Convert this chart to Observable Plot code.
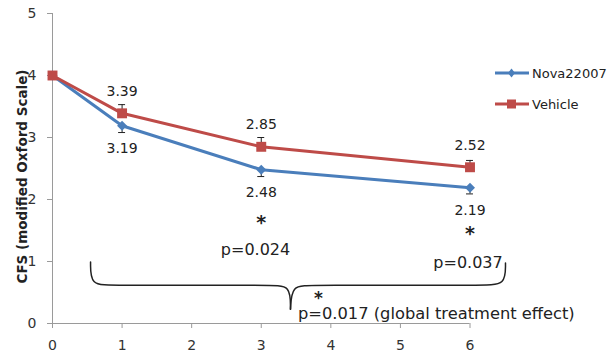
<!DOCTYPE html>
<html><head><meta charset="utf-8">
<script src="https://cdn.jsdelivr.net/npm/d3@7"></script>
<script src="https://cdn.jsdelivr.net/npm/@observablehq/plot@0.6"></script>
<style>
body{margin:0;background:#fff;font-family:"DejaVu Sans",sans-serif;}
#wrap{position:relative;width:611px;height:353px;}
#legend{position:absolute;left:494px;top:62px;font-size:13px;color:#222;}
#legend div{display:flex;align-items:center;height:22px;margin-bottom:9px;}
#legend svg{margin-right:2px;}
</style></head><body><div id="wrap"><div id="legend"></div></div>
<script>
const weeks = [0, 1, 3, 6];
const nova = [4, 3.19, 2.48, 2.19];
const vehicle = [4, 3.39, 2.85, 2.52];
const novaErr = [0, 0.11, 0.11, 0.10];
const vehicleErr = [0, 0.14, 0.15, 0.11];
const seriesNames = ["Nova22007", "Vehicle"];
const xTicks = [0, 1, 2, 3, 4, 5, 6];
const yTicks = [0, 1, 2, 3, 4, 5];
const starWeeks = [3, 6];
const pLabels = ["p=0.024", "p=0.037"];
const globalP = "p=0.017 (global treatment effect)";
const yLabel = "CFS (modified Oxford Scale)";
// brace drawn in data units (x = week, y = CFS)
const braceX = [0.547, 0.547, 0.85, 3.15, 3.42, 3.42,   3.42, 3.44, 3.7, 6.2, 6.51, 6.51];
const braceY = [0.992, 0.616, 0.616, 0.616, 0.616, 0.23, 0.23, 0.616, 0.616, 0.616, 0.616, 0.975];
const braceHalf = ["L","L","L","L","L","L","R","R","R","R","R","R"];

const BLUE = "#4A7EBB", RED = "#BE4B48";
const novaRows = weeks.map((w, i) => ({week: w, value: nova[i], err: novaErr[i]}));
const vehRows = weeks.map((w, i) => ({week: w, value: vehicle[i], err: vehicleErr[i]}));
const brace = braceX.map((x, i) => ({x, y: braceY[i], half: braceHalf[i]}));
const tip = brace[5];

const starDy = {3: 53.5, 6: 46.5};
const pDx = {3: -5.7, 6: -2};
const pDy = {3: 79.8, 6: 74.8};

const marks = [
  Plot.ruleY([0], {stroke: "#9a9a9a"}),
  Plot.ruleX([0], {stroke: "#9a9a9a"}),
  Plot.axisX({ticks: xTicks, tickSize: 5, tickPadding: 12, fontSize: 14, stroke: "#9a9a9a", fill: "#333", label: null, tickFormat: d => d}),
  Plot.axisY({ticks: yTicks, tickSize: 5, tickPadding: 11, fontSize: 14, stroke: "#9a9a9a", fill: "#333", label: null, tickFormat: d => d}),
  Plot.text([yLabel], {frameAnchor: "left", textAnchor: "middle", rotate: -90, dx: -30, dy: 8, fontWeight: "bold", fontSize: 13.5, fill: "#222"}),
  // error bars
  Plot.ruleX(novaRows.filter(d => d.err > 0), {x: "week", y1: d => d.value - d.err, y2: "value", stroke: "#222", strokeWidth: 1}),
  Plot.ruleY(novaRows.filter(d => d.err > 0), {y: d => d.value - d.err, x1: d => d.week - 0.05, x2: d => d.week + 0.05, stroke: "#222", strokeWidth: 1}),
  Plot.ruleX(vehRows.filter(d => d.err > 0), {x: "week", y1: "value", y2: d => d.value + d.err, stroke: "#222", strokeWidth: 1}),
  Plot.ruleY(vehRows.filter(d => d.err > 0), {y: d => d.value + d.err, x1: d => d.week - 0.05, x2: d => d.week + 0.05, stroke: "#222", strokeWidth: 1}),
  // lines
  Plot.line(novaRows, {x: "week", y: "value", stroke: BLUE, strokeWidth: 3}),
  Plot.dot(novaRows, {x: "week", y: "value", symbol: "diamond2", r: 4.5, fill: BLUE, stroke: null}),
  Plot.line(vehRows, {x: "week", y: "value", stroke: RED, strokeWidth: 3}),
  Plot.dot(vehRows, {x: "week", y: "value", symbol: "square", r: 5.6, fill: RED, stroke: null}),
  // value labels
  Plot.text(vehRows.filter(d => d.week > 0), {x: "week", y: "value", text: d => d.value.toFixed(2), dy: -22, fontSize: 14, fill: "#222"}),
  Plot.text(novaRows.filter(d => d.week > 0), {x: "week", y: "value", text: d => d.value.toFixed(2), dy: 23, fontSize: 14, fill: "#222"}),
  // stars and p values
  ...starWeeks.map((w, i) => {
    const row = novaRows.filter(d => d.week === w);
    return [
      Plot.text(row, {x: "week", y: "value", text: () => "*", dy: starDy[w], fontSize: 19, fontWeight: "bold", fill: "#222"}),
      Plot.text(row, {x: "week", y: "value", text: () => pLabels[i], dx: pDx[w], dy: pDy[w], fontSize: 16, fill: "#222"})
    ];
  }).flat(),
  // brace
  Plot.line(brace, {x: "x", y: "y", z: "half", curve: "basis", stroke: "#222", strokeWidth: 1.5}),
  Plot.text([tip], {x: "x", y: "y", text: () => "*", dx: 28, dy: -11, fontSize: 17, fontWeight: "bold", fill: "#222"}),
  Plot.text([tip], {x: "x", y: "y", text: () => globalP, dx: 7.5, dy: 5, textAnchor: "start", fontSize: 16.3, fill: "#222"})
];

const chart = Plot.plot({
  width: 611, height: 353,
  marginLeft: 52, marginRight: 141.5, marginTop: 13, marginBottom: 30,
  x: {domain: [0, 6]},
  y: {domain: [0, 5]},
  style: {fontFamily: "DejaVu Sans", background: "#fff"},
  marks
});
document.getElementById("wrap").prepend(chart);

// legend
const legend = document.getElementById("legend");
const colors = [BLUE, RED];
seriesNames.forEach((name, i) => {
  const row = document.createElement("div");
  const marker = i === 0
    ? `<path d="M17.5,6.5 L21,11 L17.5,15.5 L14,11 Z" fill="${colors[i]}"/>`
    : `<rect x="13" y="6.5" width="9" height="9" fill="${colors[i]}"/>`;
  row.innerHTML = `<svg width="36" height="22"><line x1="1" x2="35" y1="11" y2="11" stroke="${colors[i]}" stroke-width="3"/>${marker}</svg><span>${name}</span>`;
  legend.appendChild(row);
});
</script>
</body></html>
